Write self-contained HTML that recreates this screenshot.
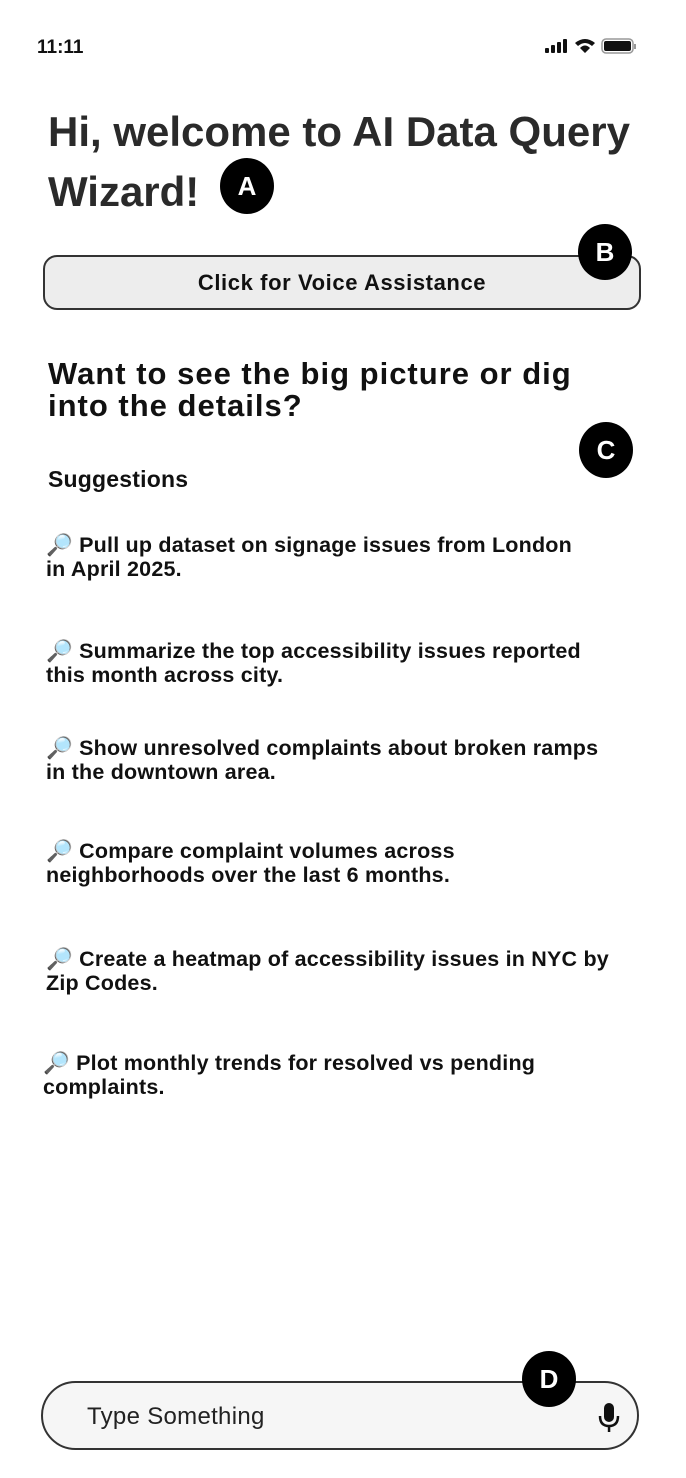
<!DOCTYPE html>
<html><head><meta charset="utf-8"><style>
*{margin:0;padding:0;box-sizing:border-box}
body{width:686px;height:1478px;background:#fff;position:relative;overflow:hidden;font-family:"Liberation Sans",sans-serif;color:#111}
.abs{position:absolute}
.badge{position:absolute;width:54px;height:56px;border-radius:50%;background:#000;color:#fff;font-weight:bold;font-size:26px;display:flex;align-items:center;justify-content:center}
.sug{position:absolute;left:46px;font-weight:bold;font-size:21.5px;line-height:24px;width:640px;letter-spacing:0.2px;white-space:nowrap}
</style></head><body>
<div class="abs" style="left:37px;top:37px;font-size:19px;font-weight:bold;color:#111">11:11</div>
<svg class="abs" style="left:545px;top:37px" width="108" height="20" viewBox="0 0 108 20">
<rect x="0" y="11" width="4" height="5" rx="1" fill="#111"/><rect x="6" y="8" width="4" height="8" rx="1" fill="#111"/><rect x="12" y="5" width="4" height="11" rx="1" fill="#111"/><rect x="18" y="2" width="4" height="14" rx="1" fill="#111"/>
<path d="M30 6 Q40 -2 50 6 L47 9 Q40 3 33 9Z M35 11 Q40 6 45 11 L40 16Z" fill="#111"/>
<rect x="57" y="2" width="31" height="14" rx="4" fill="none" stroke="#999" stroke-width="1.5"/><rect x="59" y="4" width="27" height="10" rx="2" fill="#111"/><rect x="89" y="7" width="2" height="5" fill="#999"/>
</svg>
<div class="abs" style="left:48px;top:102px;font-size:42px;font-weight:900;line-height:60px;color:#2a2a2a;width:660px;white-space:nowrap;letter-spacing:0px">Hi, welcome to AI Data Query<br>Wizard!</div>
<div class="badge" style="left:220px;top:158px">A</div>
<div class="abs" style="left:43px;top:255px;width:598px;height:55px;border:2px solid #333;border-radius:14px;background:#ededed;display:flex;align-items:center;justify-content:center;font-weight:bold;font-size:22px;letter-spacing:0.6px">Click for Voice Assistance</div>
<div class="badge" style="left:578px;top:224px">B</div>
<div class="abs" style="left:48px;top:358px;font-size:31px;font-weight:bold;line-height:32px;width:640px;white-space:nowrap;letter-spacing:1px">Want to see the big picture or dig<br>into the details?</div>
<div class="badge" style="left:579px;top:422px">C</div>
<div class="abs" style="left:48px;top:466px;font-size:23px;font-weight:bold;letter-spacing:0.2px">Suggestions</div>
<div class="sug" style="top:533px">🔎 Pull up dataset on signage issues from London<br>in April 2025.</div>
<div class="sug" style="top:639px">🔎 Summarize the top accessibility issues reported<br>this month across city.</div>
<div class="sug" style="top:736px">🔎 Show unresolved complaints about broken ramps<br>in the downtown area.</div>
<div class="sug" style="top:839px">🔎 Compare complaint volumes across<br>neighborhoods over the last 6 months.</div>
<div class="sug" style="top:947px">🔎 Create a heatmap of accessibility issues in NYC by<br>Zip Codes.</div>
<div class="sug" style="top:1051px;left:43px">🔎 Plot monthly trends for resolved vs pending<br>complaints.</div>
<div class="abs" style="left:41px;top:1381px;width:598px;height:69px;border:2px solid #333;border-radius:35px;background:#f6f6f6"></div>
<div class="abs" style="left:87px;top:1403px;font-size:24px;color:#222;letter-spacing:0.3px">Type Something</div>
<svg class="abs" style="left:597px;top:1402px" width="24" height="32" viewBox="0 0 24 32">
<rect x="7" y="1" width="10" height="19" rx="5" fill="#111"/><path d="M3 14 Q3 24 12 24 Q21 24 21 14" fill="none" stroke="#111" stroke-width="2.5"/><rect x="10.8" y="24" width="2.5" height="6" fill="#111"/>
</svg>
<div class="badge" style="left:522px;top:1351px">D</div>
</body></html>
